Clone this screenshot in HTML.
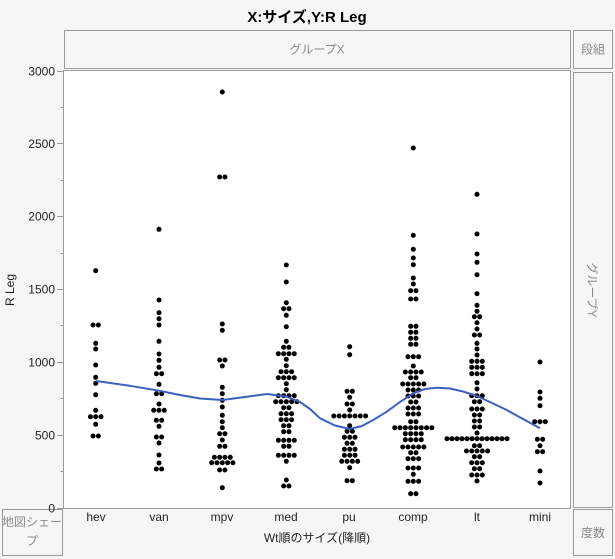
<!DOCTYPE html>
<html><head><meta charset="utf-8">
<style>
html,body{margin:0;padding:0;background:#f6f6f6;}
svg{display:block;font-family:"Liberation Sans","Noto Sans CJK JP",sans-serif;}
.r{stroke:#000;stroke-width:5;stroke-linecap:round;stroke-dasharray:0.01 5.29;fill:none}
.w{stroke:#000;stroke-width:5;stroke-linecap:round;stroke-dasharray:0.01 4.99;fill:none}
.bx{fill:#f6f6f6;stroke:#9a9a9a;stroke-width:1}
.g{fill:#8a8a8a;font-size:12px}
.t{fill:#222;font-size:12px}
</style></head><body>
<svg width="615" height="559" viewBox="0 0 615 559" xmlns="http://www.w3.org/2000/svg">
<rect x="0" y="0" width="615" height="559" fill="#f6f6f6"/>
<text x="307" y="22" text-anchor="middle" font-size="15" font-weight="bold" fill="#000">X:サイズ,Y:R Leg</text>
<rect class="bx" x="64.5" y="30.5" width="506" height="38"/>
<text class="g" x="317" y="53.5" text-anchor="middle">グループX</text>
<rect class="bx" x="573.5" y="30.5" width="39" height="38"/>
<text class="g" x="593" y="53.5" text-anchor="middle">段組</text>
<rect class="bx" x="573.5" y="72.5" width="39" height="435"/>
<text class="g" transform="translate(588,290) rotate(90)" text-anchor="middle">グループY</text>
<rect class="bx" x="573.5" y="509.5" width="39" height="46"/>
<text class="g" x="593" y="537" text-anchor="middle">度数</text>
<svg x="2" y="509" width="61" height="47" overflow="hidden">
<rect class="bx" x="0.5" y="0.5" width="60" height="46"/>
<text class="g" x="30" y="17" text-anchor="middle">地図シェー</text>
<text class="g" x="30" y="36" text-anchor="middle">プ</text>
</svg>
<rect x="63.5" y="70.5" width="507" height="438" fill="#fff" stroke="#9a9a9a" stroke-width="1"/>
<g stroke="#9a9a9a" stroke-width="1">
<line x1="63.5" y1="70" x2="63.5" y2="509"/>
<line x1="57" y1="508.5" x2="63.5" y2="508.5"/>
<line x1="57" y1="435.5" x2="63.5" y2="435.5"/>
<line x1="57" y1="362.5" x2="63.5" y2="362.5"/>
<line x1="57" y1="289.5" x2="63.5" y2="289.5"/>
<line x1="57" y1="216.5" x2="63.5" y2="216.5"/>
<line x1="57" y1="143.5" x2="63.5" y2="143.5"/>
<line x1="57" y1="71.5" x2="63.5" y2="71.5"/>
<line x1="60.5" y1="471.5" x2="63.5" y2="471.5"/>
<line x1="60.5" y1="398.5" x2="63.5" y2="398.5"/>
<line x1="60.5" y1="325.5" x2="63.5" y2="325.5"/>
<line x1="60.5" y1="253.5" x2="63.5" y2="253.5"/>
<line x1="60.5" y1="180.5" x2="63.5" y2="180.5"/>
<line x1="60.5" y1="107.5" x2="63.5" y2="107.5"/>
</g>
<g class="t" text-anchor="end">
<text x="55" y="512.5">0</text>
<text x="55" y="439.5">500</text>
<text x="55" y="366.5">1000</text>
<text x="55" y="293.5">1500</text>
<text x="55" y="220.5">2000</text>
<text x="55" y="148">2500</text>
<text x="55" y="75.5">3000</text>
</g>
<text class="t" transform="translate(14,290) rotate(-90)" text-anchor="middle">R Leg</text>
<g class="t" text-anchor="middle">
<text x="96" y="521">hev</text>
<text x="159" y="521">van</text>
<text x="222" y="521">mpv</text>
<text x="286" y="521">med</text>
<text x="349" y="521">pu</text>
<text x="413" y="521">comp</text>
<text x="477" y="521">lt</text>
<text x="540" y="521">mini</text>
<text x="317" y="542">Wt順のサイズ(降順)</text>
</g>
<g class="r">
<line x1="95.7" y1="270.7" x2="95.75" y2="270.7"/>
<line x1="93.05" y1="325" x2="98.4" y2="325"/>
<line x1="95.7" y1="343.3" x2="95.75" y2="343.3"/>
<line x1="95.7" y1="349" x2="95.75" y2="349"/>
<line x1="95.7" y1="365" x2="95.75" y2="365"/>
<line x1="95.7" y1="377.3" x2="95.75" y2="377.3"/>
<line x1="95.7" y1="383.3" x2="95.75" y2="383.3"/>
<line x1="95.7" y1="394.7" x2="95.75" y2="394.7"/>
<line x1="95.7" y1="410.3" x2="95.75" y2="410.3"/>
<line x1="90.4" y1="416.7" x2="101.05" y2="416.7"/>
<line x1="95.7" y1="424.3" x2="95.75" y2="424.3"/>
<line x1="93.05" y1="436" x2="98.4" y2="436"/>
<line x1="159" y1="229.3" x2="159.05" y2="229.3"/>
<line x1="159" y1="300" x2="159.05" y2="300"/>
<line x1="159" y1="312.7" x2="159.05" y2="312.7"/>
<line x1="159" y1="318.7" x2="159.05" y2="318.7"/>
<line x1="159" y1="325" x2="159.05" y2="325"/>
<line x1="159" y1="341.3" x2="159.05" y2="341.3"/>
<line x1="159" y1="354" x2="159.05" y2="354"/>
<line x1="159" y1="360.3" x2="159.05" y2="360.3"/>
<line x1="159" y1="367.3" x2="159.05" y2="367.3"/>
<line x1="156.35" y1="373.7" x2="161.7" y2="373.7"/>
<line x1="159" y1="384.3" x2="159.05" y2="384.3"/>
<line x1="156.35" y1="393.7" x2="161.7" y2="393.7"/>
<line x1="159" y1="404" x2="159.05" y2="404"/>
<line x1="153.7" y1="410.3" x2="164.35" y2="410.3"/>
<line x1="156.35" y1="420.3" x2="161.7" y2="420.3"/>
<line x1="159" y1="426.3" x2="159.05" y2="426.3"/>
<line x1="156.35" y1="437" x2="161.7" y2="437"/>
<line x1="159" y1="443" x2="159.05" y2="443"/>
<line x1="159" y1="455" x2="159.05" y2="455"/>
<line x1="159" y1="463" x2="159.05" y2="463"/>
<line x1="156.35" y1="469" x2="161.7" y2="469"/>
<line x1="222.3" y1="92" x2="222.35" y2="92"/>
<line x1="219.65" y1="177" x2="225" y2="177"/>
<line x1="222.3" y1="324" x2="222.35" y2="324"/>
<line x1="222.3" y1="330.3" x2="222.35" y2="330.3"/>
<line x1="219.65" y1="360" x2="225" y2="360"/>
<line x1="222.3" y1="366" x2="222.35" y2="366"/>
<line x1="222.3" y1="387.3" x2="222.35" y2="387.3"/>
<line x1="222.3" y1="393.7" x2="222.35" y2="393.7"/>
<line x1="222.3" y1="400.3" x2="222.35" y2="400.3"/>
<line x1="222.3" y1="407" x2="222.35" y2="407"/>
<line x1="222.3" y1="415.3" x2="222.35" y2="415.3"/>
<line x1="222.3" y1="421.7" x2="222.35" y2="421.7"/>
<line x1="222.3" y1="427.7" x2="222.35" y2="427.7"/>
<line x1="219.65" y1="433.7" x2="225" y2="433.7"/>
<line x1="222.3" y1="440" x2="222.35" y2="440"/>
<line x1="219.65" y1="446.3" x2="225" y2="446.3"/>
<line x1="214.35" y1="457.3" x2="230.3" y2="457.3"/>
<line x1="211.7" y1="462.7" x2="232.95" y2="462.7"/>
<line x1="219.65" y1="470" x2="225" y2="470"/>
<line x1="222.3" y1="487.7" x2="222.35" y2="487.7"/>
<line x1="286.3" y1="265" x2="286.35" y2="265"/>
<line x1="286.3" y1="282" x2="286.35" y2="282"/>
<line x1="286.3" y1="302.7" x2="286.35" y2="302.7"/>
<line x1="283.65" y1="308.7" x2="289" y2="308.7"/>
<line x1="286.3" y1="315.3" x2="286.35" y2="315.3"/>
<line x1="286.3" y1="326.7" x2="286.35" y2="326.7"/>
<line x1="286.3" y1="341.3" x2="286.35" y2="341.3"/>
<line x1="283.65" y1="347.3" x2="289" y2="347.3"/>
<line x1="278.35" y1="353.7" x2="294.3" y2="353.7"/>
<line x1="286.3" y1="359.3" x2="286.35" y2="359.3"/>
<line x1="286.3" y1="365.7" x2="286.35" y2="365.7"/>
<line x1="281" y1="371.7" x2="291.65" y2="371.7"/>
<line x1="278.35" y1="377.7" x2="294.3" y2="377.7"/>
<line x1="286.3" y1="383.7" x2="286.35" y2="383.7"/>
<line x1="286.3" y1="389.7" x2="286.35" y2="389.7"/>
<line x1="278.35" y1="395.7" x2="294.3" y2="395.7"/>
<line x1="275.7" y1="401.7" x2="296.95" y2="401.7"/>
<line x1="283.65" y1="407.7" x2="289" y2="407.7"/>
<line x1="281" y1="413.7" x2="291.65" y2="413.7"/>
<line x1="281" y1="419.7" x2="291.65" y2="419.7"/>
<line x1="283.65" y1="425.7" x2="289" y2="425.7"/>
<line x1="283.65" y1="431.7" x2="289" y2="431.7"/>
<line x1="278.35" y1="440.3" x2="294.3" y2="440.3"/>
<line x1="283.65" y1="446.3" x2="289" y2="446.3"/>
<line x1="278.35" y1="455.3" x2="294.3" y2="455.3"/>
<line x1="286.3" y1="461.3" x2="286.35" y2="461.3"/>
<line x1="286.3" y1="480" x2="286.35" y2="480"/>
<line x1="283.65" y1="486" x2="289" y2="486"/>
<line x1="349.7" y1="346.7" x2="349.75" y2="346.7"/>
<line x1="349.7" y1="354.7" x2="349.75" y2="354.7"/>
<line x1="347.05" y1="391.3" x2="352.4" y2="391.3"/>
<line x1="349.7" y1="397.3" x2="349.75" y2="397.3"/>
<line x1="347.05" y1="404" x2="352.4" y2="404"/>
<line x1="349.7" y1="410" x2="349.75" y2="410"/>
<line x1="333.8" y1="416" x2="365.65" y2="416"/>
<line x1="349.7" y1="425.7" x2="349.75" y2="425.7"/>
<line x1="347.05" y1="431.3" x2="352.4" y2="431.3"/>
<line x1="344.4" y1="437.3" x2="355.05" y2="437.3"/>
<line x1="347.05" y1="443.3" x2="352.4" y2="443.3"/>
<line x1="344.4" y1="449.3" x2="355.05" y2="449.3"/>
<line x1="344.4" y1="455.3" x2="355.05" y2="455.3"/>
<line x1="341.75" y1="461.3" x2="357.7" y2="461.3"/>
<line x1="349.7" y1="467.7" x2="349.75" y2="467.7"/>
<line x1="347.05" y1="480.7" x2="352.4" y2="480.7"/>
<line x1="413.3" y1="148" x2="413.35" y2="148"/>
<line x1="413.3" y1="235.3" x2="413.35" y2="235.3"/>
<line x1="413.3" y1="249.3" x2="413.35" y2="249.3"/>
<line x1="413.3" y1="258" x2="413.35" y2="258"/>
<line x1="413.3" y1="264.7" x2="413.35" y2="264.7"/>
<line x1="413.3" y1="278" x2="413.35" y2="278"/>
<line x1="413.3" y1="284" x2="413.35" y2="284"/>
<line x1="410.65" y1="290.7" x2="416" y2="290.7"/>
<line x1="410.65" y1="299" x2="416" y2="299"/>
<line x1="410.65" y1="326.3" x2="416" y2="326.3"/>
<line x1="410.65" y1="332.3" x2="416" y2="332.3"/>
<line x1="410.65" y1="338.3" x2="416" y2="338.3"/>
<line x1="410.65" y1="344.3" x2="416" y2="344.3"/>
<line x1="408" y1="356.7" x2="418.65" y2="356.7"/>
<line x1="413.3" y1="366" x2="413.35" y2="366"/>
<line x1="405.35" y1="372" x2="421.3" y2="372"/>
<line x1="410.65" y1="377.7" x2="416" y2="377.7"/>
<line x1="402.7" y1="384" x2="423.95" y2="384"/>
<line x1="408" y1="390" x2="418.65" y2="390"/>
<line x1="408" y1="396" x2="418.65" y2="396"/>
<line x1="410.65" y1="402" x2="416" y2="402"/>
<line x1="408" y1="408" x2="418.65" y2="408"/>
<line x1="408" y1="414" x2="418.65" y2="414"/>
<line x1="410.65" y1="421.7" x2="416" y2="421.7"/>
<line x1="394.75" y1="427.7" x2="431.9" y2="427.7"/>
<line x1="405.35" y1="433.7" x2="421.3" y2="433.7"/>
<line x1="405.35" y1="439.7" x2="421.3" y2="439.7"/>
<line x1="402.7" y1="447" x2="423.95" y2="447"/>
<line x1="410.65" y1="452.7" x2="416" y2="452.7"/>
<line x1="408" y1="458.7" x2="418.65" y2="458.7"/>
<line x1="408" y1="468" x2="418.65" y2="468"/>
<line x1="413.3" y1="474.3" x2="413.35" y2="474.3"/>
<line x1="408" y1="481.3" x2="418.65" y2="481.3"/>
<line x1="410.65" y1="493.7" x2="416" y2="493.7"/>
<line x1="477" y1="194.3" x2="477.05" y2="194.3"/>
<line x1="477" y1="234" x2="477.05" y2="234"/>
<line x1="477" y1="254" x2="477.05" y2="254"/>
<line x1="477" y1="262.3" x2="477.05" y2="262.3"/>
<line x1="477" y1="274.7" x2="477.05" y2="274.7"/>
<line x1="477" y1="293.7" x2="477.05" y2="293.7"/>
<line x1="477" y1="305.3" x2="477.05" y2="305.3"/>
<line x1="477" y1="311.3" x2="477.05" y2="311.3"/>
<line x1="474.35" y1="316.7" x2="479.7" y2="316.7"/>
<line x1="477" y1="322.7" x2="477.05" y2="322.7"/>
<line x1="477" y1="329" x2="477.05" y2="329"/>
<line x1="474.35" y1="335" x2="479.7" y2="335"/>
<line x1="477" y1="343.3" x2="477.05" y2="343.3"/>
<line x1="477" y1="349" x2="477.05" y2="349"/>
<line x1="477" y1="355" x2="477.05" y2="355"/>
<line x1="471.7" y1="361.3" x2="482.35" y2="361.3"/>
<line x1="471.7" y1="367.3" x2="482.35" y2="367.3"/>
<line x1="471.7" y1="373.7" x2="482.35" y2="373.7"/>
<line x1="477" y1="382.7" x2="477.05" y2="382.7"/>
<line x1="477" y1="389" x2="477.05" y2="389"/>
<line x1="471.7" y1="395.7" x2="482.35" y2="395.7"/>
<line x1="474.35" y1="401.7" x2="479.7" y2="401.7"/>
<line x1="471.7" y1="409" x2="482.35" y2="409"/>
<line x1="474.35" y1="415" x2="479.7" y2="415"/>
<line x1="474.35" y1="421" x2="479.7" y2="421"/>
<line x1="474.35" y1="427" x2="479.7" y2="427"/>
<line x1="477" y1="433" x2="477.05" y2="433"/>
<line x1="474.35" y1="445.7" x2="479.7" y2="445.7"/>
<line x1="466.4" y1="451" x2="487.65" y2="451"/>
<line x1="474.35" y1="456.7" x2="479.7" y2="456.7"/>
<line x1="471.7" y1="462.7" x2="482.35" y2="462.7"/>
<line x1="474.35" y1="468.7" x2="479.7" y2="468.7"/>
<line x1="471.7" y1="475" x2="482.35" y2="475"/>
<line x1="477" y1="481" x2="477.05" y2="481"/>
<line x1="540" y1="362" x2="540.05" y2="362"/>
<line x1="540" y1="392" x2="540.05" y2="392"/>
<line x1="540" y1="398.3" x2="540.05" y2="398.3"/>
<line x1="540" y1="405.7" x2="540.05" y2="405.7"/>
<line x1="534.7" y1="421.7" x2="545.35" y2="421.7"/>
<line x1="537.35" y1="439.3" x2="542.7" y2="439.3"/>
<line x1="540" y1="445.7" x2="540.05" y2="445.7"/>
<line x1="537.35" y1="451.7" x2="542.7" y2="451.7"/>
<line x1="540" y1="471" x2="540.05" y2="471"/>
<line x1="540" y1="483" x2="540.05" y2="483"/>
</g>
<line class="w" x1="447" y1="438.7" x2="507.05" y2="438.7"/>
<polyline fill="none" stroke="#3c5fc0" stroke-width="2" stroke-linejoin="round" points="96,381 130,385.8 159,390.7 180,395 200,398.5 222,400 245,397 267,394 286,396.5 300,402 310,409 320,418.3 335,425.5 349.7,429 362,426 375,419 386.7,411.7 400,402 413.3,393.3 425,389 436.7,387.7 450,388.5 463,391.5 477,396 492,403 506.7,410 523,419 540,428.3"/>
</svg>
</body></html>
